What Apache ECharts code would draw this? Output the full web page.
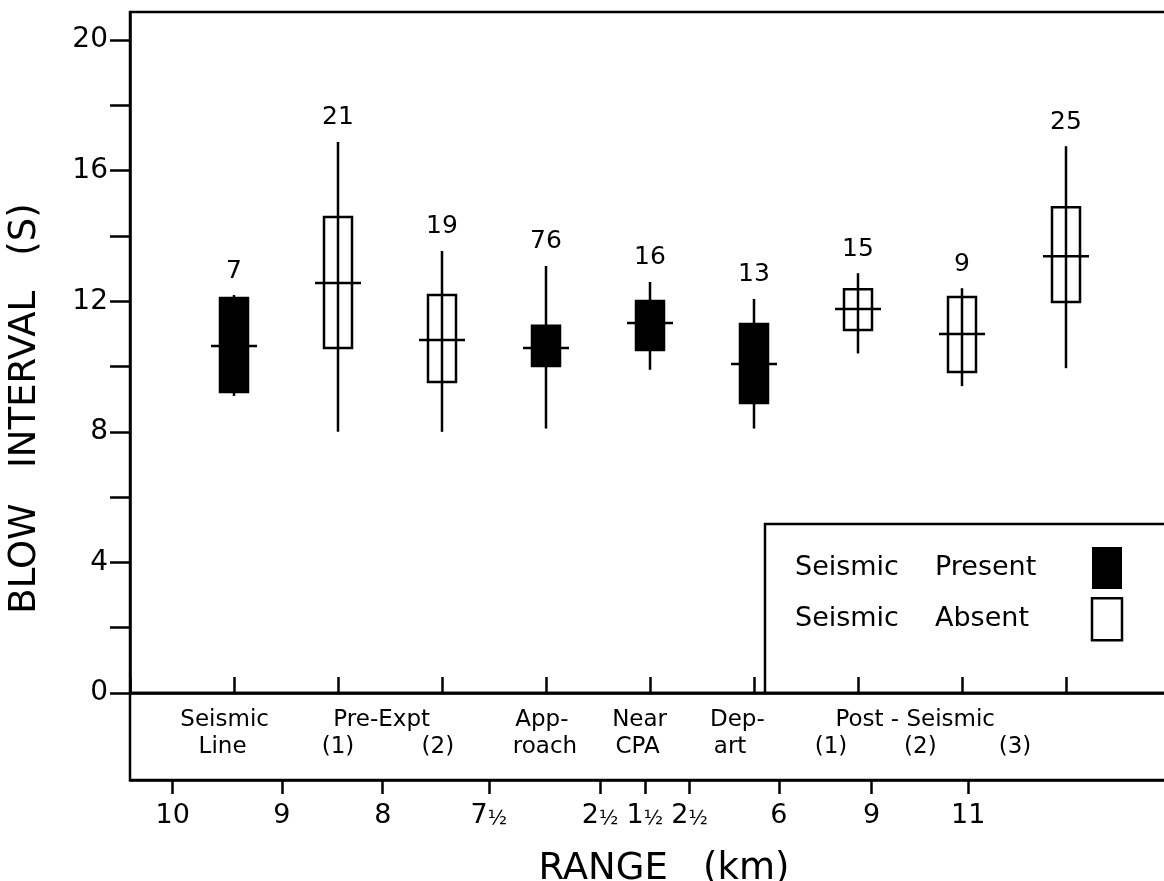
<!DOCTYPE html>
<html>
<head>
<meta charset="utf-8">
<script src="https://cdn.jsdelivr.net/npm/echarts@6/dist/echarts.min.js"></script>
<style>
  html, body { margin: 0; padding: 0; background: #fff; }
  #chart { width: 1164px; height: 881px; }
</style>
</head>
<body>
<div id="chart"></div>
<script>
// ---- data ----
const categories = ['Seismic Line', 'Pre-Expt (1)', 'Pre-Expt (2)', 'Approach', 'Near CPA', 'Depart', 'Post-Seismic (1)', 'Post-Seismic (2)', 'Post-Seismic (3)'];
const seismicPresent = [1, 0, 0, 1, 1, 1, 0, 0, 0];
const counts = [7, 21, 19, 76, 16, 13, 15, 9, 25];
const lowValues = [9.1, 8.0, 8.0, 8.1, 9.9, 8.1, 10.4, 9.4, 9.95];
const q1Values = [9.22, 10.57, 9.53, 10.02, 10.51, 8.88, 11.12, 9.83, 11.98];
const medianValues = [10.63, 12.56, 10.81, 10.57, 11.33, 10.08, 11.76, 11.0, 13.38];
const q3Values = [12.1, 14.58, 12.19, 11.25, 12.01, 11.3, 12.37, 12.13, 14.88];
const highValues = [12.19, 16.88, 13.54, 13.08, 12.59, 12.07, 12.86, 12.4, 16.75];
const yTickValues = [0, 2, 4, 6, 8, 10, 12, 14, 16, 18, 20];
const yLabelValues = [0, 4, 8, 12, 16, 20];
const rangeLabels = ['10', '9', '8', '7½', '2½', '1½', '2½', '6', '9', '11'];
const rangePos = [-0.59, 0.46, 1.43, 2.45, 3.52, 3.95, 4.38, 5.24, 6.13, 7.06];

// group label text lines under the zero line: [x (category units), row level, text]
const bandLabels = [
  [-0.09, 0.69, 'Seismic'], [-0.11, 0.38, 'Line'],
  [1.42, 0.69, 'Pre-Expt'], [1.0, 0.38, '(1)'], [1.96, 0.38, '(2)'],
  [2.96, 0.69, 'App-'], [2.99, 0.38, 'roach'],
  [3.9, 0.69, 'Near'], [3.88, 0.38, 'CPA'],
  [4.84, 0.69, 'Dep-'], [4.77, 0.38, 'art'],
  [6.55, 0.69, 'Post - Seismic'], [5.74, 0.38, '(1)'], [6.6, 0.38, '(2)'], [7.51, 0.38, '(3)']
];

const FONT = '"DejaVu Sans", "Liberation Sans", sans-serif';

function rows(flag) {
  const out = [];
  categories.forEach((c, i) => {
    if (seismicPresent[i] === flag) {
      out.push([i, lowValues[i], q1Values[i], medianValues[i], q3Values[i], highValues[i], counts[i]]);
    }
  });
  return out;
}

function makeRender(filled) {
  return function (params, api) {
    const x = api.value(0);
    const pLow = api.coord([x, api.value(1)]);
    const pQ1 = api.coord([x, api.value(2)]);
    const pMed = api.coord([x, api.value(3)]);
    const pQ3 = api.coord([x, api.value(4)]);
    const pHigh = api.coord([x, api.value(5)]);
    const bw = 28, mw = 46;
    return {
      type: 'group',
      children: [
        { type: 'rect', shape: { x: pQ3[0] - bw / 2, y: pQ3[1], width: bw, height: pQ1[1] - pQ3[1] },
          style: { fill: filled ? '#000' : 'none', stroke: '#000', lineWidth: 2.5 } },
        { type: 'line', shape: { x1: pLow[0], y1: pLow[1], x2: pHigh[0], y2: pHigh[1] },
          style: { stroke: '#000', lineWidth: 2.5 } },
        { type: 'line', shape: { x1: pMed[0] - mw / 2, y1: pMed[1], x2: pMed[0] + mw / 2, y2: pMed[1] },
          style: { stroke: '#000', lineWidth: 2.5 } },
        { type: 'text', style: { text: String(api.value(6)), x: pHigh[0], y: pHigh[1] - 24,
          align: 'center', verticalAlign: 'middle', fontSize: 25, fontFamily: FONT, fill: '#000' } }
      ]
    };
  };
}

const chart = echarts.init(document.getElementById('chart'), null, { renderer: 'canvas' });

const option = {
  backgroundColor: '#fff',
  animation: false,
  grid: [
    { left: 130, width: 1040, top: 12, height: 681, outerBoundsMode: 'none', show: true,
      borderColor: '#000', borderWidth: 2.5, backgroundColor: 'transparent' },
    { left: 130, width: 1040, top: 693, height: 87, outerBoundsMode: 'none', show: true,
      borderColor: '#000', borderWidth: 2.5, backgroundColor: 'transparent' }
  ],
  xAxis: [
    { type: 'value', gridIndex: 0, min: -1, max: 9, interval: 1,
      axisLine: { show: true, onZero: false, lineStyle: { color: '#000', width: 2.5 } },
      axisTick: { show: true, inside: true, length: 16, lineStyle: { color: '#000', width: 2.5 } },
      axisLabel: { show: false }, splitLine: { show: false } },
    { type: 'value', gridIndex: 1, min: -1, max: 9, position: 'bottom',
      axisLine: { show: true, onZero: false, lineStyle: { color: '#000', width: 2.5 } },
      axisTick: { show: true, inside: false, length: 14, customValues: rangePos, lineStyle: { color: '#000', width: 2.5 } },
      axisLabel: { show: true, customValues: rangePos, margin: 22, color: '#000', fontSize: 27, fontFamily: FONT,
        formatter: function (v) {
          let best = 0, d = Infinity;
          rangePos.forEach((p, i) => { if (Math.abs(p - v) < d) { d = Math.abs(p - v); best = i; } });
          const s = rangeLabels[best];
          if (s.indexOf('½') >= 0) {
            return '{n|' + s.replace('½', '') + '}{f|½}';
          }
          return '{n|' + s + '}';
        },
        rich: {
          n: { fontSize: 27, fontFamily: FONT, color: '#000' },
          f: { fontSize: 20, fontFamily: FONT, color: '#000', verticalAlign: 'bottom' }
        } },
      splitLine: { show: false },
      name: 'RANGE   (km)', nameLocation: 'middle', nameGap: 71,
      nameTextStyle: { color: '#000', fontSize: 37, fontFamily: FONT, padding: [0, 0, 0, 28] } }
  ],
  yAxis: [
    { type: 'value', gridIndex: 0, min: 0, max: 20.86,
      axisLine: { show: true, onZero: false, lineStyle: { color: '#000', width: 2.5 } },
      axisTick: { show: true, inside: false, length: 20, customValues: yTickValues, lineStyle: { color: '#000', width: 2.5 } },
      axisLabel: { show: true, customValues: yLabelValues, margin: 22, color: '#000', fontSize: 28, fontFamily: FONT },
      splitLine: { show: false },
      name: 'BLOW   INTERVAL   (S)', nameLocation: 'middle', nameGap: 86,
      nameTextStyle: { color: '#000', fontSize: 37, fontFamily: FONT, padding: [0, 112, 0, 0] } },
    { type: 'value', gridIndex: 1, min: 0, max: 1, show: false }
  ],
  legend: {
    left: 765, top: 524, orient: 'vertical', align: 'right',
    padding: [23, 40, 54, 30], itemGap: 8, itemWidth: 30, itemHeight: 42,
    borderWidth: 0, selectedMode: false,
    formatter: function (name) {
      const parts = name.split(' ');
      return '{a|' + parts[0] + '}{b|' + parts[1] + '}';
    },
    textStyle: { color: '#000', fontSize: 27, fontFamily: FONT,
      rich: { a: { width: 140, align: 'left', fontSize: 27, fontFamily: FONT, color: '#000' },
              b: { width: 152, align: 'left', fontSize: 27, fontFamily: FONT, color: '#000' } } },
    data: [
      { name: 'Seismic Present', icon: 'rect', itemStyle: { color: '#000', borderWidth: 0 } },
      { name: 'Seismic Absent', icon: 'rect', itemStyle: { color: '#fff', borderColor: '#000', borderWidth: 2.5 } }
    ]
  },
  // frame of the legend box (open to the right edge)
  graphic: [
    { type: 'polyline', silent: true, z: 10,
      shape: { points: [[765, 693], [765, 524], [1170, 524]] },
      style: { stroke: '#000', lineWidth: 2.5, fill: 'none' } }
  ],
  series: [
    { name: 'Seismic Present', type: 'custom', xAxisIndex: 0, yAxisIndex: 0, clip: false,
      itemStyle: { color: '#000' }, renderItem: makeRender(true), data: rows(1) },
    { name: 'Seismic Absent', type: 'custom', xAxisIndex: 0, yAxisIndex: 0, clip: false,
      itemStyle: { color: '#fff' }, renderItem: makeRender(false), data: rows(0) },
    { name: 'labels', type: 'custom', xAxisIndex: 1, yAxisIndex: 1, clip: false, silent: true,
      renderItem: function (params, api) {
        const p = api.coord([api.value(0), api.value(1)]);
        return { type: 'text', style: { text: bandLabels[params.dataIndex][2], x: p[0], y: p[1],
          align: 'center', verticalAlign: 'middle', fontSize: 23, fontFamily: FONT, fill: '#000' } };
      },
      data: bandLabels.map(r => [r[0], r[1]]) }
  ]
};
chart.setOption(option);
</script>
</body>
</html>
